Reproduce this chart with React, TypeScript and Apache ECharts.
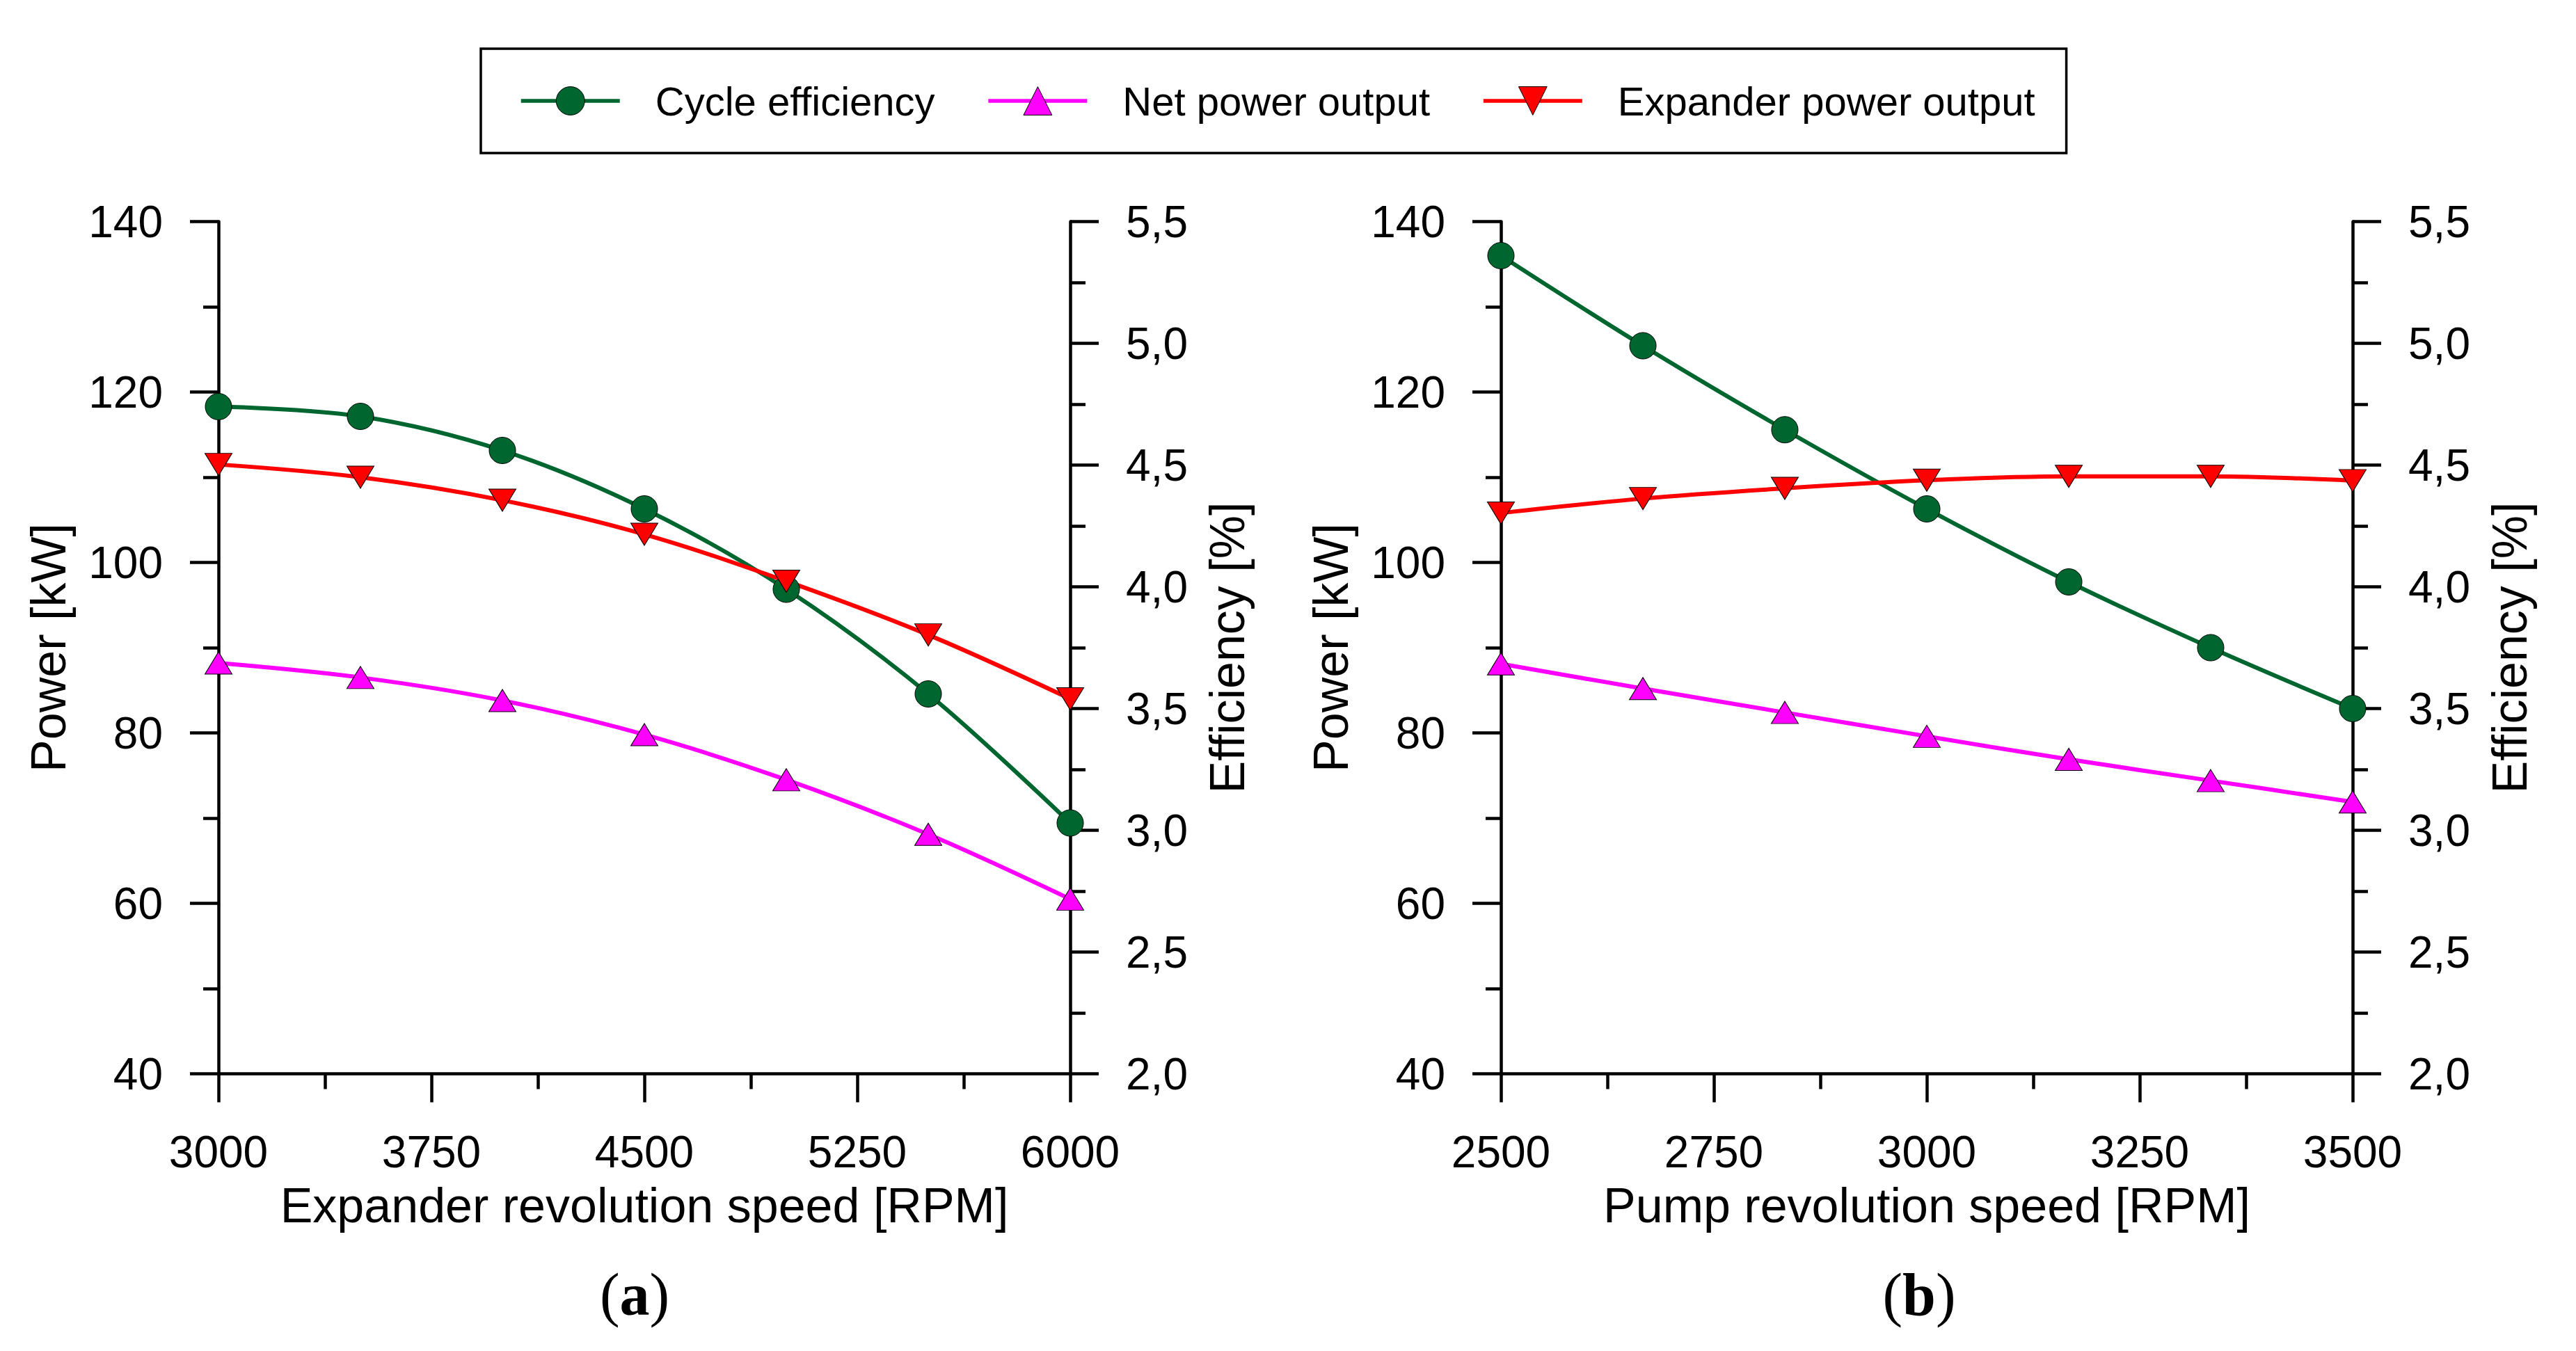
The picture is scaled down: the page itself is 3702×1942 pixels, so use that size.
import React, { useEffect, useRef } from 'react';
import * as echarts from 'echarts';

// ---------- data ----------
const seriesNames = ['Cycle efficiency', 'Net power output', 'Expander power output'];

const expanderSpeed = [3000, 3500, 4000, 4500, 5000, 5500, 6000];
const expEfficiency = [4.74, 4.7, 4.56, 4.32, 3.99, 3.56, 3.03];
const expNetPower = [88.2, 86.5, 83.8, 79.8, 74.5, 68.1, 60.5];
const expExpanderPower = [111.5, 110.0, 107.3, 103.3, 97.8, 91.5, 84.0];

const pumpSpeed = [2500, 2666.7, 2833.3, 3000, 3166.7, 3333.3, 3500];
const pumpEfficiency = [5.36, 4.99, 4.645, 4.32, 4.02, 3.75, 3.5];
const pumpNetPower = [88.1, 85.2, 82.4, 79.6, 76.9, 74.4, 71.9];
const pumpExpanderPower = [105.8, 107.5, 108.7, 109.65, 110.1, 110.1, 109.6];

const expanderAxis = { min: 3000, max: 6000, interval: 750 };
const pumpAxis = { min: 2500, max: 3500, interval: 250 };
const powerAxis = { min: 40, max: 140, interval: 20 };
const effAxis = { min: 2.0, max: 5.5, interval: 0.5 };

const xTitles = ['Expander revolution speed [RPM]', 'Pump revolution speed [RPM]'];
const powerTitle = 'Power [kW]';
const effTitle = 'Efficiency [%]';
const panelLabels = ['a', 'b'];

// ---------- styles ----------
const FONT = '"Liberation Sans", Arial, sans-serif';
const SERIF = '"Liberation Serif", "Times New Roman", serif';

const seriesStyle: Record<string, any> = {
  'Cycle efficiency': { color: '#00662F', symbol: 'circle', symbolSize: 38, symbolRotate: 0 },
  'Net power output': { color: '#FF00FF', symbol: 'triangle', symbolSize: [39, 32], symbolRotate: 0 },
  'Expander power output': { color: '#FF0000', symbol: 'triangle', symbolSize: [39, 32], symbolRotate: 180 },
};

const axisBase = (gridIndex: number) => ({
  gridIndex,
  type: 'value',
  nameLocation: 'middle',
  axisLine: { show: true, onZero: false, lineStyle: { color: '#000', width: 4.5 } },
  axisTick: { show: true, inside: false, length: 41, lineStyle: { color: '#000', width: 4.5 } },
  minorTick: { show: true, splitNumber: 2, length: 22, lineStyle: { color: '#000', width: 4.5 } },
  splitLine: { show: false },
  minorSplitLine: { show: false },
  axisLabel: { color: '#000', fontSize: 64, fontFamily: FONT, margin: 80, formatter: (v: number) => String(v) },
  nameTextStyle: { color: '#000', fontSize: 70, fontFamily: FONT },
});

const effFormatter = (v: number) => v.toFixed(1).replace('.', ',');

function makeSeries(name: string, xs: number[], ys: number[], xAxisIndex: number, yAxisIndex: number) {
  const s = seriesStyle[name];
  return {
    name,
    type: 'line',
    xAxisIndex,
    yAxisIndex,
    data: xs.map((x, i) => [x, ys[i]]),
    smooth: 0.35,
    symbol: s.symbol,
    symbolSize: s.symbolSize,
    symbolRotate: s.symbolRotate,
    showAllSymbol: true,
    lineStyle: { color: s.color, width: 6 },
    itemStyle: { color: s.color, borderColor: '#000', borderWidth: 1 },
    emphasis: { disabled: true },
  };
}

export default function App() {
  const ref = useRef<HTMLDivElement>(null);

  useEffect(() => {
    if (!ref.current) return;
    const chart = echarts.init(ref.current, undefined, { renderer: 'svg' });

    const option: any = {
      animation: false,
      backgroundColor: '#fff',
      legend: {
        data: seriesNames,
        left: 691,
        top: 70,
        orient: 'horizontal',
        padding: [46, 45, 46, 55],
        itemGap: 74,
        itemWidth: 142,
        itemHeight: 51,
        borderColor: '#000',
        borderWidth: 3.5,
        borderRadius: 0,
        selectedMode: false,
        lineStyle: { width: 5.5 },
        itemStyle: { borderWidth: 1, borderColor: '#000' },
        textStyle: { color: '#000', fontSize: 58, fontFamily: FONT, padding: [0, 0, 0, 46] },
      },
      grid: [
        { left: 314, top: 318.5, width: 1224, height: 1225 },
        { left: 2157, top: 318.5, width: 1224, height: 1225 },
      ],
      xAxis: [
        { ...axisBase(0), ...expanderAxis, name: xTitles[0], nameGap: 154 },
        { ...axisBase(1), ...pumpAxis, name: xTitles[1], nameGap: 154 },
      ],
      yAxis: [
        { ...axisBase(0), ...powerAxis, position: 'left', name: powerTitle, nameGap: 209 },
        {
          ...axisBase(0), ...effAxis, position: 'right', name: effTitle, nameGap: 191,
          axisLabel: { ...axisBase(0).axisLabel, formatter: effFormatter },
        },
        { ...axisBase(1), ...powerAxis, position: 'left', name: powerTitle, nameGap: 209 },
        {
          ...axisBase(1), ...effAxis, position: 'right', name: effTitle, nameGap: 191,
          axisLabel: { ...axisBase(1).axisLabel, formatter: effFormatter },
        },
      ],
      series: [
        makeSeries(seriesNames[0], expanderSpeed, expEfficiency, 0, 1),
        makeSeries(seriesNames[1], expanderSpeed, expNetPower, 0, 0),
        makeSeries(seriesNames[2], expanderSpeed, expExpanderPower, 0, 0),
        makeSeries(seriesNames[0], pumpSpeed, pumpEfficiency, 1, 3),
        makeSeries(seriesNames[1], pumpSpeed, pumpNetPower, 1, 2),
        makeSeries(seriesNames[2], pumpSpeed, pumpExpanderPower, 1, 2),
      ],
      graphic: panelLabels.map((lab, i) => ({
        type: 'text',
        x: i === 0 ? 912 : 2758,
        y: 1861,
        style: {
          text: '({b|' + lab + '})',
          fill: '#000',
          fontSize: 86,
          fontFamily: SERIF,
          align: 'center',
          verticalAlign: 'middle',
          rich: { b: { fontWeight: 'bold', fontSize: 86, fontFamily: SERIF, fill: '#000' } },
        },
      })),
    };

    chart.setOption(option);
    return () => chart.dispose();
  }, []);

  return (
    <div
      ref={ref}
      style={{ position: 'fixed', left: 0, top: 0, width: 3702, height: 1942, background: '#fff' }}
    />
  );
}
